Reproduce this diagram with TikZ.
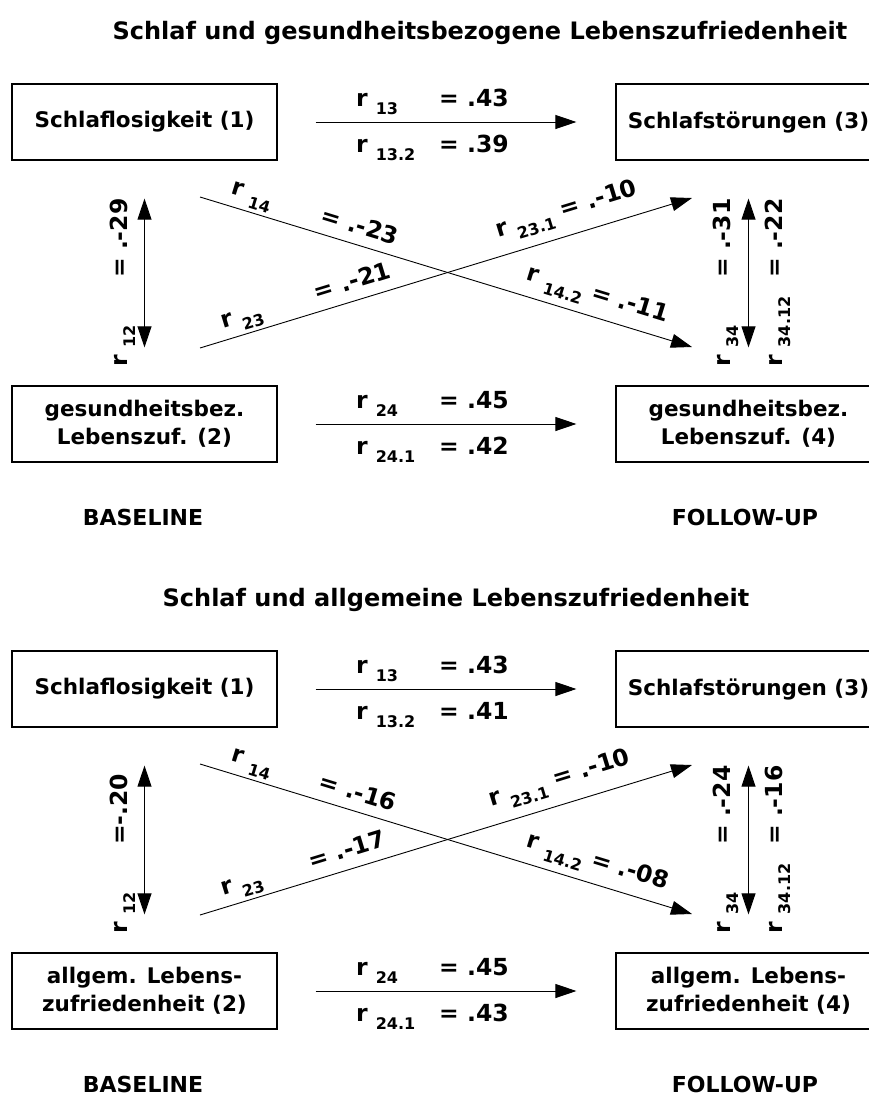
\documentclass[tikz,border=0pt]{standalone}
\usepackage{fontspec}
\setmainfont{DejaVu Sans}
\usetikzlibrary{arrows.meta, positioning}

% r with lowered index
\newcommand{\rsub}[1]{r\kern8pt\raisebox{-8.5pt}{\fontsize{16}{16}\selectfont #1}}

\begin{document}
\begin{tikzpicture}[
  x=1pt, y=-1pt,
  box/.style={draw, line width=1.2pt, minimum width=265pt, minimum height=76pt, align=center, font=\fontsize{21.5}{28}\selectfont\bfseries},
  lab/.style={font=\fontsize{23.5}{26}\selectfont\bfseries, inner sep=0pt},
  head/.style={font=\fontsize{24}{28}\selectfont\bfseries, inner sep=0pt},
  foot/.style={font=\fontsize{22}{26}\selectfont\bfseries, inner sep=0pt},
  conn/.style={-{Triangle[length=21pt, width=14pt]}, line width=0.9pt},
  both/.style={{Triangle[length=21pt, width=14pt]}-{Triangle[length=21pt, width=14pt]}, line width=0.9pt, shorten <=38pt, shorten >=38pt}
]
  \useasboundingbox (0,0) rectangle (869,1095);

  % ---- upper panel ----
  \node[head, anchor=base] (title1) at (480,39) {Schlaf und gesundheitsbezogene Lebenszufriedenheit};

  \node[box] (top1) at (144.5,122) {Schlaflosigkeit (1)};
  \node[box] (top3) at (748.5,122) {Schlafstörungen (3)};
  \node[box] (top2) at (144.5,424) {gesundheitsbez.\\Lebenszuf. (2)};
  \node[box] (top4) at (748.5,424) {gesundheitsbez.\\Lebenszuf. (4)};

  \coordinate (tp1) at (200,197);
  \coordinate (tp2) at (200,348);
  \coordinate (tp3) at (692,198);
  \coordinate (tp4) at (692,347);

  \draw[conn, shorten <=38pt, shorten >=39pt] (top1) -- (top3);
  \draw[conn, shorten <=38pt, shorten >=39pt] (top2) -- (top4);
  \draw[both] (top1) -- (top2);
  \draw[both] (top3) -- (top4);

  \draw[conn] (tp1) -- node[lab, sloped, pos=0.096, above=3pt] (tr14) {\rsub{14}}
                       node[lab, sloped, pos=0.314, above=10pt] (tv14) {= .-23}
                       node[lab, sloped, pos=0.795, above=7pt] (tr142) {\rsub{14.2} = .-11} (tp4);
  \draw[conn] (tp2) -- node[lab, sloped, pos=0.095, above=3pt] (tr23) {\rsub{23}}
                       node[lab, sloped, pos=0.321, above=11pt] (tv23) {= .-21}
                       node[lab, sloped, pos=0.76, above=10pt] (tr231) {\rsub{23.1} = .-10} (tp3);

  \node[lab, anchor=base west] (tr13) at (356,106) {\rsub{13}};
  \node[lab, anchor=base west] (tv13) at (439,106) {= .43};
  \node[lab, anchor=base west] (tr132) at (356,152) {\rsub{13.2}};
  \node[lab, anchor=base west] (tv132) at (439,152) {= .39};
  \node[lab, anchor=base west] (tr24) at (356,408) {\rsub{24}};
  \node[lab, anchor=base west] (tv24) at (439,408) {= .45};
  \node[lab, anchor=base west] (tr241) at (356,454) {\rsub{24.1}};
  \node[lab, anchor=base west] (tv241) at (439,454) {= .42};

  \node[lab, rotate=90, anchor=base west] (tr12) at (127,367) {\rsub{12}};
  \node[lab, rotate=90, anchor=base west] (tv12) at (127,278) {= .-29};
  \node[lab, rotate=90, anchor=base west] (tr34) at (730,367) {\rsub{34}};
  \node[lab, rotate=90, anchor=base west] (tv34) at (730,278) {= .-31};
  \node[lab, rotate=90, anchor=base west] (tr3412) at (782,367) {\rsub{34.12}};
  \node[lab, rotate=90, anchor=base west] (tv3412) at (782,278) {= .-22};

  \node[foot, anchor=base] (tbase) at (143,525) {BASELINE};
  \node[foot, anchor=base] (tfollow) at (745,525) {FOLLOW-UP};

  % ---- lower panel ----
  \begin{scope}[yshift=-567pt]
    \node[head, anchor=base] (title2) at (456,39) {Schlaf und allgemeine Lebenszufriedenheit};

    \node[box] (bot1) at (144.5,122) {Schlaflosigkeit (1)};
    \node[box] (bot3) at (748.5,122) {Schlafstörungen (3)};
    \node[box] (bot2) at (144.5,424) {allgem. Lebens-\\zufriedenheit (2)};
    \node[box] (bot4) at (748.5,424) {allgem. Lebens-\\zufriedenheit (4)};

    \coordinate (bp1) at (200,197);
    \coordinate (bp2) at (200,348);
    \coordinate (bp3) at (692,198);
    \coordinate (bp4) at (692,347);

    \draw[conn, shorten <=38pt, shorten >=39pt] (bot1) -- (bot3);
    \draw[conn, shorten <=38pt, shorten >=39pt] (bot2) -- (bot4);
    \draw[both] (bot1) -- (bot2);
    \draw[both] (bot3) -- (bot4);

    \draw[conn] (bp1) -- node[lab, sloped, pos=0.096, above=3pt] (br14) {\rsub{14}}
                         node[lab, sloped, pos=0.31, above=10pt] (bv14) {= .-16}
                         node[lab, sloped, pos=0.795, above=7pt] (br142) {\rsub{14.2} = .-08} (bp4);
    \draw[conn] (bp2) -- node[lab, sloped, pos=0.095, above=3pt] (br23) {\rsub{23}}
                         node[lab, sloped, pos=0.31, above=11pt] (bv23) {= .-17}
                         node[lab, sloped, pos=0.746, above=10pt] (br231) {\rsub{23.1} = .-10} (bp3);

    \node[lab, anchor=base west] (br13) at (356,106) {\rsub{13}};
    \node[lab, anchor=base west] (bv13) at (439,106) {= .43};
    \node[lab, anchor=base west] (br132) at (356,152) {\rsub{13.2}};
    \node[lab, anchor=base west] (bv132) at (439,152) {= .41};
    \node[lab, anchor=base west] (br24) at (356,408) {\rsub{24}};
    \node[lab, anchor=base west] (bv24) at (439,408) {= .45};
    \node[lab, anchor=base west] (br241) at (356,454) {\rsub{24.1}};
    \node[lab, anchor=base west] (bv241) at (439,454) {= .43};

    \node[lab, rotate=90, anchor=base west] (br12) at (127,367) {\rsub{12}};
    \node[lab, rotate=90, anchor=base west] (bv12) at (127,278) {=-.20};
    \node[lab, rotate=90, anchor=base west] (br34) at (730,367) {\rsub{34}};
    \node[lab, rotate=90, anchor=base west] (bv34) at (730,278) {= .-24};
    \node[lab, rotate=90, anchor=base west] (br3412) at (782,367) {\rsub{34.12}};
    \node[lab, rotate=90, anchor=base west] (bv3412) at (782,278) {= .-16};

    \node[foot, anchor=base] (bbase) at (143,525) {BASELINE};
    \node[foot, anchor=base] (bfollow) at (745,525) {FOLLOW-UP};
  \end{scope}
\end{tikzpicture}
\end{document}
